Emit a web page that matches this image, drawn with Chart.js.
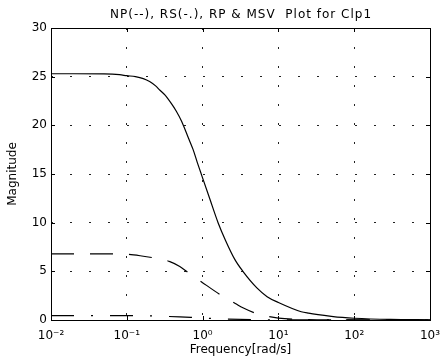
<!DOCTYPE html>
<html>
<head>
<meta charset="utf-8">
<script src="https://cdn.jsdelivr.net/npm/chart.js@4/dist/chart.umd.min.js"></script>
<style>
html,body{margin:0;padding:0;background:#fff;}
#wrap{width:441px;height:358px;}
</style>
</head>
<body>
<div id="wrap"><canvas id="c" width="441" height="358"></canvas></div>
<script>
// ---- data ----
const titleText = 'NP(--), RS(-.), RP & MSV  Plot for Clp1';
const xTitle = 'Frequency[rad/s]';
const yTitle = 'Magnitude';

const xTickValues = [0.01, 0.1, 1, 10, 100, 1000];
const xTickLabels = ['10\u207B\u00B2', '10\u207B\u00B9', '10\u2070', '10\u00B9', '10\u00B2', '10\u00B3'];
const yTickValues = [0, 5, 10, 15, 20, 25, 30];

// solid line (RP & MSV)
const freqSolid = [0.01,0.02,0.05,0.08,0.1,0.13,0.165,0.2,0.24,0.274,0.32,0.39,0.45,0.53,0.65,0.75,0.85,0.95,1.25,1.6,2.0,2.67,3.4,5.2,7.1,10,20,25,50,70,100,300,1000];
const magSolid  = [25.3,25.3,25.28,25.2,25.1,25.0,24.8,24.5,24.05,23.6,23.1,22.2,21.45,20.4,18.7,17.5,16.2,15.1,12.4,10.0,8.2,6.2,5.0,3.3,2.4,1.8,0.85,0.7,0.38,0.26,0.18,0.06,0.02];

// dashed line (NP)
const freqNP = [0.01,0.05,0.1,0.15,0.22,0.37,0.5,0.64,0.96,1.73,2.7,3.4,5,7,10,20,50,100,1000];
const magNP  = [6.8,6.8,6.75,6.6,6.4,6.0,5.5,4.9,3.94,2.57,1.7,1.25,0.7,0.4,0.2,0.06,0.01,0.005,0];

// dash-dot line (RS)
const freqRS = [0.01,0.1,0.2,0.3,0.5,0.7,1,2,5,10,100,1000];
const magRS  = [0.45,0.45,0.42,0.38,0.32,0.27,0.2,0.1,0.04,0.02,0.002,0];

const toPts = (xs, ys) => xs.map((x, i) => ({x: x, y: ys[i]}));

const FONT = "'DejaVu Sans', 'Liberation Sans', Arial, sans-serif";

const framePlugin = {
  id: 'frame',
  afterDraw(chart) {
    const {ctx, chartArea: a, scales} = chart;
    ctx.save();
    ctx.strokeStyle = '#000';
    ctx.lineWidth = 1;
    ctx.setLineDash([]);
    ctx.strokeRect(Math.round(a.left) + 0.5, Math.round(a.top) + 0.5,
                   Math.round(a.right - a.left), Math.round(a.bottom - a.top));
    const L = 4;
    ctx.beginPath();
    xTickValues.forEach(v => {
      const px = Math.round(scales.x.getPixelForValue(v)) + 0.5;
      ctx.moveTo(px, a.bottom); ctx.lineTo(px, a.bottom - L);
      ctx.moveTo(px, a.top); ctx.lineTo(px, a.top + L);
    });
    yTickValues.forEach(v => {
      const py = Math.round(scales.y.getPixelForValue(v)) + 0.5;
      ctx.moveTo(a.left, py); ctx.lineTo(a.left + L, py);
      ctx.moveTo(a.right, py); ctx.lineTo(a.right - L, py);
    });
    ctx.stroke();
    // title centred over the axes box (as MATLAB does)
    ctx.fillStyle = '#000';
    ctx.font = '12px ' + FONT;
    try { ctx.letterSpacing = '1px'; } catch (e) {}
    ctx.textAlign = 'center';
    ctx.textBaseline = 'middle';
    ctx.fillText(titleText, (a.left + a.right) / 2 + 0.5, 15);
    ctx.restore();
  }
};

new Chart(document.getElementById('c'), {
  type: 'line',
  data: {
    datasets: [
      { label: 'RP', data: toPts(freqSolid, magSolid), borderColor: '#000', borderWidth: 1.2,
        pointRadius: 0, fill: false, cubicInterpolationMode: 'monotone' },
      { label: 'NP', data: toPts(freqNP, magNP), borderColor: '#000', borderWidth: 1.2,
        borderDash: [23, 16], pointRadius: 0, fill: false, cubicInterpolationMode: 'monotone' },
      { label: 'RS', data: toPts(freqRS, magRS), borderColor: '#000', borderWidth: 1.2,
        borderDash: [23, 17, 2, 17], pointRadius: 0, fill: false, cubicInterpolationMode: 'monotone' }
    ]
  },
  options: {
    responsive: false,
    animation: false,
    devicePixelRatio: 1,
    layout: { padding: { left: 0, right: 11, top: 28, bottom: 0 } },
    plugins: {
      legend: { display: false },
      tooltip: { enabled: false },
      title: { display: false }
    },
    scales: {
      x: {
        type: 'logarithmic', min: 0.01, max: 1000,
        afterBuildTicks: s => { s.ticks = xTickValues.map(v => ({ value: v })); },
        afterFit: s => { s.height = 38; s.paddingLeft = 0; s.paddingRight = 0; },
        ticks: { color: '#000', font: { family: FONT, size: 12 }, padding: 9, maxRotation: 0, autoSkip: false,
                 callback: (v, i) => xTickLabels[i] },
        grid: { color: '#222', lineWidth: 1, drawTicks: false },
        border: { display: false, dash: [2, 17] },
        title: { display: true, text: xTitle, color: '#000', font: { family: FONT, size: 12 },
                 padding: { top: 0, bottom: 1 } }
      },
      y: {
        type: 'linear', min: 0, max: 30,
        afterBuildTicks: s => { s.ticks = yTickValues.map(v => ({ value: v })); },
        afterFit: s => { s.width = 51; s.paddingTop = 0; s.paddingBottom = 0; },
        ticks: { color: '#000', font: { family: FONT, size: 12 }, padding: 4 },
        grid: { color: '#222', lineWidth: 1, drawTicks: false },
        border: { display: false, dash: [2, 17] },
        title: { display: true, text: yTitle, color: '#000', font: { family: FONT, size: 12 },
                 padding: { top: 6, bottom: 0 } }
      }
    }
  },
  plugins: [framePlugin]
});
</script>
</body>
</html>
